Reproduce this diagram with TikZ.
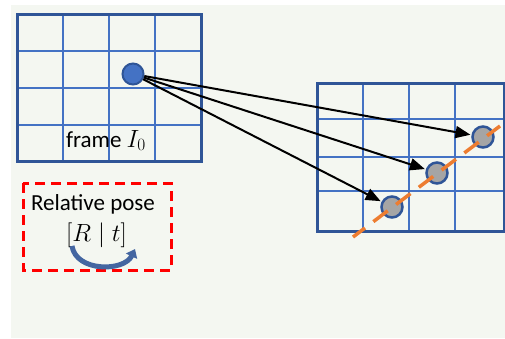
\documentclass[tikz,border=0pt]{standalone}
\usepackage{fontspec}
\setmainfont{Carlito}
\usetikzlibrary{arrows.meta}

\definecolor{bgpaper}{HTML}{F4F7F1}
\definecolor{gridblue}{HTML}{4472C4}
\definecolor{framedark}{HTML}{2F5597}
\definecolor{ptgray}{HTML}{A5A5A5}
\definecolor{lineorange}{HTML}{ED7D31}

\begin{document}
\begin{tikzpicture}[
  x=1pt, y=-1pt,
  font=\fontsize{23}{26}\selectfont,
  cell/.style={draw=gridblue, line width=2.8pt},
  border/.style={draw=framedark, line width=3pt},
  src/.style={circle, draw=framedark, fill=gridblue, line width=2pt, minimum size=21pt, inner sep=0pt},
  tgt/.style={circle, draw=framedark, fill=ptgray, line width=2.5pt, minimum size=21pt, inner sep=0pt},
  arr/.style={-{Triangle[length=15pt, width=12pt]}, line width=2pt, shorten >=1pt},
  epi/.style={lineorange, line width=3.5pt, dash pattern=on 18pt off 10.5pt, dash phase=3pt},
  posebox/.style={draw=red, line width=3pt, dash pattern=on 10pt off 6pt},
  turn/.style={-{Triangle[length=8pt, width=12pt]}, draw=framedark!90!white, line width=5pt}
]
\useasboundingbox (0,0) rectangle (505,338);
\fill[bgpaper] (11,5) rectangle (505,338);

% reference frame
\foreach \gx in {63,109,155} \draw[cell] (\gx,14) -- (\gx,161);
\foreach \gy in {51,88,125} \draw[cell] (17,\gy) -- (201,\gy);
\draw[border] (17,14) rectangle (201,161);
\node[anchor=base] (lbl0) at (106,147) {frame $I_0$};

% current frame
\foreach \gx in {363,409,455} \draw[cell] (\gx,83) -- (\gx,231);
\foreach \gy in {119,157,191} \draw[cell] (317,\gy) -- (504,\gy);
\draw[border] (317,83) rectangle (504,231);

% points
\node[src] (p0) at (133,74) {};
\node[tgt] (p1) at (392,207) {};
\node[tgt] (p2) at (437,173) {};
\node[tgt] (p3) at (483,137) {};

\draw[arr] (p0) -- (p1);
\draw[arr] (p0) -- (p2);
\draw[arr] (p0) -- (p3);

% epipolar line
\coordinate (epiA) at (353,237);
\coordinate (epiB) at (500,126);
\draw[epi] (epiA) -- (epiB);

% relative pose
\draw[posebox] (23,183) rectangle (171,270);
\node[anchor=base] (lblpose) at (93,210.5) {Relative pose};
\node[anchor=base] (lblrt) at (96.5,241) {$[R\mid t]$};
\coordinate (rotA) at (72,246);
\coordinate (rotB) at (135,249);
\draw[turn] (rotA) .. controls (76,272) and (124,272) .. (rotB);
\end{tikzpicture}
\end{document}
